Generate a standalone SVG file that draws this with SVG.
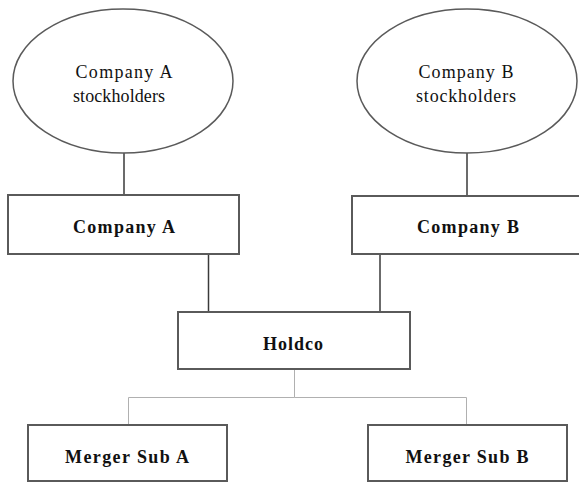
<svg xmlns="http://www.w3.org/2000/svg" width="579" height="483" viewBox="0 0 579 483">
<style>
.box{fill:#fff;stroke:#5a5a5a;stroke-width:2}
.ell{fill:#fff;stroke:#5a5a5a;stroke-width:1.5}
.ln{stroke:#3a3a3a;stroke-width:1.5;fill:none}
.lt{stroke:#b0b0b0;stroke-width:1;fill:none}
.t{font-family:"Liberation Serif",serif;font-size:18px;fill:#111;text-anchor:middle}
.b{font-family:"Liberation Serif",serif;font-size:18px;font-weight:bold;fill:#111;text-anchor:middle}
</style>
<rect width="579" height="483" fill="#fff"/>
<g id="connectors">
<path class="ln" d="M124,153V195"/>
<path class="ln" d="M467,153V196"/>
<path class="ln" d="M208.500,254V312"/>
<path class="ln" d="M380,254V312"/>
<path class="lt" d="M294.500,369V397.500H128.500V425M294.500,397.500H466.500V425"/>
</g>
<g id="stockA">
<ellipse class="ell" cx="123" cy="81" rx="110" ry="72"/>
<text class="t" x="124" y="78" textLength="97" lengthAdjust="spacing">Company A</text>
<text class="t" x="119" y="102" textLength="92" lengthAdjust="spacing">stockholders</text>
</g>
<g id="stockB">
<ellipse class="ell" cx="467" cy="81" rx="110" ry="72"/>
<text class="t" x="466" y="78" textLength="95" lengthAdjust="spacing">Company B</text>
<text class="t" x="466" y="102" textLength="100" lengthAdjust="spacing">stockholders</text>
</g>
<g id="companyA">
<rect class="box" x="8" y="195" width="231" height="59"/>
<text class="b" x="124" y="233" textLength="102" lengthAdjust="spacing">Company A</text>
</g>
<g id="companyB">
<rect class="box" x="352" y="196" width="240" height="58"/>
<text class="b" x="468" y="233" textLength="102" lengthAdjust="spacing">Company B</text>
</g>
<g id="holdco">
<rect class="box" x="178" y="312" width="232" height="57"/>
<text class="b" x="293" y="350" textLength="60" lengthAdjust="spacing">Holdco</text>
</g>
<g id="mergerA">
<rect class="box" x="28" y="425" width="199" height="56"/>
<text class="b" x="127" y="463" textLength="124" lengthAdjust="spacing">Merger Sub A</text>
</g>
<g id="mergerB">
<rect class="box" x="368" y="425" width="199" height="56"/>
<text class="b" x="467" y="463" textLength="123" lengthAdjust="spacing">Merger Sub B</text>
</g>
</svg>
